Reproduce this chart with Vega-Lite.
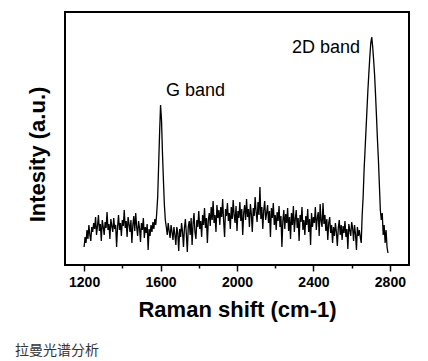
{
  "$schema": "https://vega.github.io/schema/vega-lite/v6.json",
  "width": 344,
  "height": 253,
  "autosize": {"type": "none"},
  "padding": {"left": 65, "top": 12, "right": 19, "bottom": 96},
  "background": "white",
  "config": {
    "view": {"stroke": "black", "strokeWidth": 2},
    "font": "Liberation Sans"
  },
  "title": {
    "text": "拉曼光谱分析",
    "orient": "bottom",
    "anchor": "start",
    "frame": "group",
    "font": "Noto Sans CJK SC",
    "fontSize": 14,
    "fontWeight": "normal",
    "color": "#333333",
    "dx": -50,
    "offset": 24
  },
  "datasets": {
    "spectrum": [
      {"x":1200,"y":18},{"x":1205,"y":28},{"x":1210,"y":22},{"x":1215,"y":35},{"x":1220,"y":26},{"x":1225,"y":40},{"x":1230,"y":30},{"x":1235,"y":24},{"x":1240,"y":38},{"x":1245,"y":33},
      {"x":1250,"y":42},{"x":1255,"y":36},{"x":1260,"y":48},{"x":1265,"y":30},{"x":1270,"y":39},{"x":1275,"y":50},{"x":1280,"y":34},{"x":1285,"y":41},{"x":1290,"y":24},{"x":1295,"y":45},
      {"x":1300,"y":38},{"x":1305,"y":30},{"x":1310,"y":43},{"x":1315,"y":37},{"x":1320,"y":53},{"x":1325,"y":35},{"x":1330,"y":41},{"x":1335,"y":26},{"x":1340,"y":46},{"x":1345,"y":39},
      {"x":1350,"y":33},{"x":1355,"y":47},{"x":1360,"y":36},{"x":1365,"y":40},{"x":1370,"y":18},{"x":1375,"y":38},{"x":1380,"y":50},{"x":1385,"y":35},{"x":1390,"y":42},{"x":1395,"y":29},
      {"x":1400,"y":45},{"x":1405,"y":39},{"x":1410,"y":55},{"x":1415,"y":37},{"x":1420,"y":44},{"x":1425,"y":28},{"x":1430,"y":48},{"x":1435,"y":41},{"x":1440,"y":33},{"x":1445,"y":45},
      {"x":1450,"y":22},{"x":1455,"y":40},{"x":1460,"y":49},{"x":1465,"y":34},{"x":1470,"y":52},{"x":1475,"y":38},{"x":1480,"y":29},{"x":1485,"y":44},{"x":1490,"y":37},{"x":1495,"y":23},
      {"x":1500,"y":42},{"x":1505,"y":35},{"x":1510,"y":47},{"x":1515,"y":27},{"x":1520,"y":38},{"x":1525,"y":32},{"x":1530,"y":41},{"x":1535,"y":15},{"x":1540,"y":36},{"x":1545,"y":29},
      {"x":1550,"y":40},{"x":1555,"y":33},{"x":1560,"y":43},{"x":1565,"y":36},{"x":1570,"y":46},{"x":1575,"y":40},{"x":1580,"y":52},{"x":1585,"y":68},{"x":1590,"y":100},{"x":1595,"y":132},
      {"x":1600,"y":160},{"x":1605,"y":145},{"x":1610,"y":112},{"x":1615,"y":85},{"x":1620,"y":60},{"x":1625,"y":45},{"x":1630,"y":38},{"x":1635,"y":30},{"x":1640,"y":42},{"x":1645,"y":34},
      {"x":1650,"y":27},{"x":1655,"y":40},{"x":1660,"y":33},{"x":1665,"y":25},{"x":1670,"y":38},{"x":1675,"y":30},{"x":1680,"y":20},{"x":1685,"y":38},{"x":1690,"y":32},{"x":1695,"y":14},
      {"x":1700,"y":36},{"x":1705,"y":28},{"x":1710,"y":42},{"x":1715,"y":33},{"x":1720,"y":18},{"x":1725,"y":37},{"x":1730,"y":46},{"x":1735,"y":31},{"x":1740,"y":13},{"x":1745,"y":38},
      {"x":1750,"y":44},{"x":1755,"y":30},{"x":1760,"y":47},{"x":1765,"y":20},{"x":1770,"y":41},{"x":1775,"y":52},{"x":1780,"y":33},{"x":1785,"y":26},{"x":1790,"y":45},{"x":1795,"y":38},
      {"x":1800,"y":54},{"x":1805,"y":36},{"x":1810,"y":44},{"x":1815,"y":28},{"x":1820,"y":50},{"x":1825,"y":40},{"x":1830,"y":57},{"x":1835,"y":37},{"x":1840,"y":47},{"x":1845,"y":22},
      {"x":1850,"y":45},{"x":1855,"y":52},{"x":1860,"y":39},{"x":1865,"y":58},{"x":1870,"y":45},{"x":1875,"y":64},{"x":1880,"y":42},{"x":1885,"y":50},{"x":1890,"y":33},{"x":1895,"y":60},
      {"x":1900,"y":47},{"x":1905,"y":55},{"x":1910,"y":40},{"x":1915,"y":58},{"x":1920,"y":48},{"x":1925,"y":66},{"x":1930,"y":44},{"x":1935,"y":28},{"x":1940,"y":56},{"x":1945,"y":49},
      {"x":1950,"y":62},{"x":1955,"y":44},{"x":1960,"y":52},{"x":1965,"y":36},{"x":1970,"y":58},{"x":1975,"y":46},{"x":1980,"y":65},{"x":1985,"y":50},{"x":1990,"y":42},{"x":1995,"y":59},
      {"x":2000,"y":34},{"x":2005,"y":54},{"x":2010,"y":47},{"x":2015,"y":63},{"x":2020,"y":44},{"x":2025,"y":56},{"x":2030,"y":30},{"x":2035,"y":52},{"x":2040,"y":60},{"x":2045,"y":45},
      {"x":2050,"y":66},{"x":2055,"y":48},{"x":2060,"y":56},{"x":2065,"y":38},{"x":2070,"y":61},{"x":2075,"y":51},{"x":2080,"y":33},{"x":2085,"y":57},{"x":2090,"y":49},{"x":2095,"y":68},
      {"x":2100,"y":53},{"x":2105,"y":43},{"x":2110,"y":63},{"x":2115,"y":50},{"x":2120,"y":78},{"x":2125,"y":46},{"x":2130,"y":58},{"x":2135,"y":36},{"x":2140,"y":55},{"x":2145,"y":64},
      {"x":2150,"y":45},{"x":2155,"y":52},{"x":2160,"y":60},{"x":2165,"y":42},{"x":2170,"y":54},{"x":2175,"y":28},{"x":2180,"y":57},{"x":2185,"y":47},{"x":2190,"y":62},{"x":2195,"y":40},
      {"x":2200,"y":50},{"x":2205,"y":35},{"x":2210,"y":53},{"x":2215,"y":44},{"x":2220,"y":59},{"x":2225,"y":38},{"x":2230,"y":49},{"x":2235,"y":18},{"x":2240,"y":44},{"x":2245,"y":55},
      {"x":2250,"y":36},{"x":2255,"y":51},{"x":2260,"y":42},{"x":2265,"y":57},{"x":2270,"y":34},{"x":2275,"y":48},{"x":2280,"y":26},{"x":2285,"y":52},{"x":2290,"y":40},{"x":2295,"y":59},
      {"x":2300,"y":33},{"x":2305,"y":46},{"x":2310,"y":55},{"x":2315,"y":37},{"x":2320,"y":47},{"x":2325,"y":24},{"x":2330,"y":50},{"x":2335,"y":43},{"x":2340,"y":58},{"x":2345,"y":35},
      {"x":2350,"y":45},{"x":2355,"y":30},{"x":2360,"y":49},{"x":2365,"y":40},{"x":2370,"y":56},{"x":2375,"y":33},{"x":2380,"y":46},{"x":2385,"y":20},{"x":2390,"y":52},{"x":2395,"y":38},
      {"x":2400,"y":48},{"x":2405,"y":42},{"x":2410,"y":58},{"x":2415,"y":35},{"x":2420,"y":47},{"x":2425,"y":53},{"x":2430,"y":29},{"x":2435,"y":61},{"x":2440,"y":44},{"x":2445,"y":38},
      {"x":2450,"y":62},{"x":2455,"y":41},{"x":2460,"y":50},{"x":2465,"y":34},{"x":2470,"y":46},{"x":2475,"y":25},{"x":2480,"y":42},{"x":2485,"y":48},{"x":2490,"y":32},{"x":2495,"y":40},
      {"x":2500,"y":22},{"x":2505,"y":38},{"x":2510,"y":29},{"x":2515,"y":42},{"x":2520,"y":33},{"x":2525,"y":19},{"x":2530,"y":37},{"x":2535,"y":45},{"x":2540,"y":30},{"x":2545,"y":40},
      {"x":2550,"y":25},{"x":2555,"y":39},{"x":2560,"y":32},{"x":2565,"y":44},{"x":2570,"y":28},{"x":2575,"y":36},{"x":2580,"y":16},{"x":2585,"y":41},{"x":2590,"y":35},{"x":2595,"y":29},
      {"x":2600,"y":43},{"x":2605,"y":37},{"x":2610,"y":24},{"x":2615,"y":40},{"x":2620,"y":31},{"x":2625,"y":15},{"x":2630,"y":38},{"x":2635,"y":29},{"x":2640,"y":35},{"x":2645,"y":28},
      {"x":2650,"y":22},{"x":2655,"y":50},{"x":2660,"y":68},{"x":2665,"y":95},{"x":2670,"y":115},{"x":2675,"y":135},{"x":2680,"y":155},{"x":2685,"y":175},{"x":2690,"y":192},{"x":2695,"y":208},
      {"x":2700,"y":222},{"x":2705,"y":228},{"x":2710,"y":218},{"x":2715,"y":205},{"x":2720,"y":190},{"x":2725,"y":170},{"x":2730,"y":148},{"x":2735,"y":125},{"x":2740,"y":105},{"x":2745,"y":80},
      {"x":2750,"y":55},{"x":2755,"y":45},{"x":2760,"y":52},{"x":2765,"y":30},{"x":2770,"y":40},{"x":2775,"y":22},{"x":2780,"y":35},{"x":2785,"y":18},{"x":2790,"y":12}
    ],
    "labels": [
      {"x": 1628, "y": 169, "text": "G band"},
      {"x": 2288, "y": 212, "text": "2D band"}
    ]
  },
  "layer": [
    {
      "data": {"name": "spectrum"},
      "mark": {"type": "line", "color": "black", "strokeWidth": 1.3, "interpolate": "linear"},
      "encoding": {
        "x": {
          "field": "x", "type": "quantitative",
          "scale": {"domain": [1100, 2900], "nice": false, "zero": false},
          "axis": {
            "title": "Raman shift (cm-1)",
            "titleFontSize": 22, "titleFontWeight": "bold", "titleColor": "black", "titlePadding": 10,
            "values": [1200, 1400, 1600, 1800, 2000, 2200, 2400, 2600, 2800],
            "labelExpr": "datum.value % 400 == 0 ? datum.label : ''",
            "format": "d",
            "labelFontSize": 14, "labelFontWeight": "bold", "labelColor": "black", "labelPadding": 4,
            "domain": false, "grid": false,
            "tickColor": "black", "tickWidth": 1.5,
            "tickSize": {"condition": {"test": "datum.value % 400 == 0", "value": 6}, "value": 3}
          }
        },
        "y": {
          "field": "y", "type": "quantitative",
          "scale": {"domain": [0, 253], "nice": false, "zero": false},
          "axis": {
            "title": "Intesity (a.u.)",
            "titleFontSize": 22, "titleFontWeight": "bold", "titleColor": "black",
            "titleAngle": -90, "titleX": -28, "titleY": 142, "titleAlign": "center", "titleBaseline": "middle",
            "labels": false, "ticks": false, "domain": false, "grid": false
          }
        }
      }
    },
    {
      "data": {"name": "labels"},
      "mark": {"type": "text", "align": "left", "baseline": "alphabetic", "fontSize": 18, "color": "black", "font": "Liberation Sans"},
      "encoding": {
        "x": {"field": "x", "type": "quantitative"},
        "y": {"field": "y", "type": "quantitative"},
        "text": {"field": "text"}
      }
    }
  ]
}
